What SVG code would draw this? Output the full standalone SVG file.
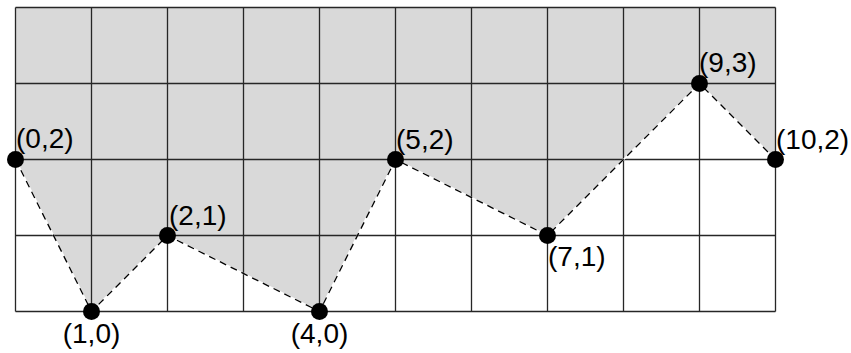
<svg xmlns="http://www.w3.org/2000/svg" width="851" height="353" viewBox="0 0 851 353">
<style>
.grid line{stroke:#262626;stroke-width:1.3}
.lbl{font-family:"Liberation Sans",Arial,sans-serif;font-size:28px;fill:#000}
.pt{fill:#000}
</style>
<rect width="851" height="353" fill="#fff"/>
<polygon id="region" points="15.5,7.5 15.5,159.5 91.5,311.5 167.5,235.5 319.5,311.5 395.5,159.5 547.5,235.5 699.5,83.5 775.5,159.5 775.5,7.5" fill="#d9d9d9"/>
<g class="grid">
<line x1="15.5" y1="7.5" x2="775.5" y2="7.5"/>
<line x1="15.5" y1="83.5" x2="775.5" y2="83.5"/>
<line x1="15.5" y1="159.5" x2="775.5" y2="159.5"/>
<line x1="15.5" y1="235.5" x2="775.5" y2="235.5"/>
<line x1="15.5" y1="311.5" x2="775.5" y2="311.5"/>
<line x1="15.5" y1="7.5" x2="15.5" y2="311.5"/>
<line x1="91.5" y1="7.5" x2="91.5" y2="311.5"/>
<line x1="167.5" y1="7.5" x2="167.5" y2="311.5"/>
<line x1="243.5" y1="7.5" x2="243.5" y2="311.5"/>
<line x1="319.5" y1="7.5" x2="319.5" y2="311.5"/>
<line x1="395.5" y1="7.5" x2="395.5" y2="311.5"/>
<line x1="471.5" y1="7.5" x2="471.5" y2="311.5"/>
<line x1="547.5" y1="7.5" x2="547.5" y2="311.5"/>
<line x1="623.5" y1="7.5" x2="623.5" y2="311.5"/>
<line x1="699.5" y1="7.5" x2="699.5" y2="311.5"/>
<line x1="775.5" y1="7.5" x2="775.5" y2="311.5"/>
</g>
<g id="connectors">
<polyline points="15.5,159.5 91.5,311.5 167.5,235.5 319.5,311.5 395.5,159.5 547.5,235.5 699.5,83.5 775.5,159.5" fill="none" stroke="#fff" stroke-width="1.5"/>
<polyline points="15.5,159.5 91.5,311.5 167.5,235.5 319.5,311.5 395.5,159.5 547.5,235.5 699.5,83.5 775.5,159.5" fill="none" stroke="#000" stroke-width="1.3" stroke-dasharray="7,5"/>
</g>
<g id="p0"><circle class="pt" cx="15.5" cy="159.5" r="8.5"/><text class="lbl" x="16" y="148">(0,2)</text></g>
<g id="p1"><circle class="pt" cx="91.5" cy="311.5" r="8.5"/><text class="lbl" x="91.5" y="343" text-anchor="middle">(1,0)</text></g>
<g id="p2"><circle class="pt" cx="167.5" cy="235.5" r="8.5"/><text class="lbl" x="169" y="225">(2,1)</text></g>
<g id="p4"><circle class="pt" cx="319.5" cy="311.5" r="8.5"/><text class="lbl" x="319.5" y="343" text-anchor="middle">(4,0)</text></g>
<g id="p5"><circle class="pt" cx="395.5" cy="159.5" r="8.5"/><text class="lbl" x="396" y="149">(5,2)</text></g>
<g id="p7"><circle class="pt" cx="547.5" cy="235.5" r="8.5"/><text class="lbl" x="548" y="266">(7,1)</text></g>
<g id="p9"><circle class="pt" cx="699.5" cy="83.5" r="8.5"/><text class="lbl" x="699" y="72">(9,3)</text></g>
<g id="p10"><circle class="pt" cx="775.5" cy="159.5" r="8.5"/><text class="lbl" x="776" y="149">(10,2)</text></g>
</svg>
